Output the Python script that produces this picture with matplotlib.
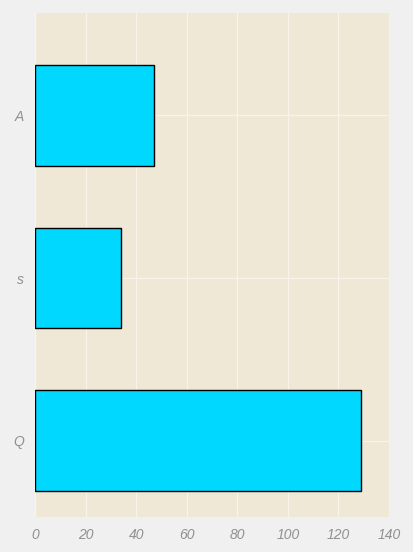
import matplotlib.pyplot as plt

# categories listed bottom to top
categories = ['Q', 's', 'A']
values = [129, 34, 47]
xticks = [0, 20, 40, 60, 80, 100, 120, 140]

fig = plt.figure(figsize=(4.14, 5.52), dpi=100, facecolor='#f0f0f0')
ax = fig.add_axes([0.0857, 0.0634, 0.8539, 0.913])
ax.set_facecolor('#efe8d6')

ax.barh(range(len(categories)), values, height=0.62, color='#00d8ff',
        edgecolor='black', linewidth=1, zorder=3)

ax.set_xlim(0, 140)
ax.set_ylim(-0.47, 2.63)
ax.set_xticks(xticks)
ax.set_yticks(range(len(categories)))
ax.set_yticklabels(categories)
ax.grid(True, color='#f8f4ea', linewidth=0.9, zorder=0)
for s in ax.spines.values():
    s.set_visible(False)
ax.tick_params(length=0, labelsize=10, labelcolor='#909090', pad=8)
for lab in ax.get_xticklabels() + ax.get_yticklabels():
    lab.set_fontstyle('italic')
    lab.set_family('Liberation Sans')

fig.savefig('out.png', dpi=100, facecolor=fig.get_facecolor())
